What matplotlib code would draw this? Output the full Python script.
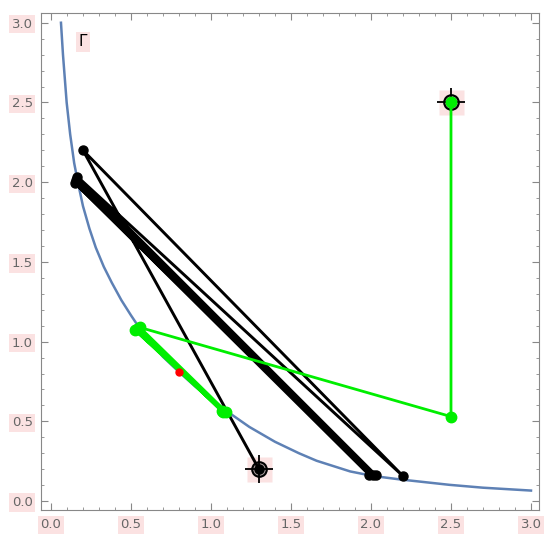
import numpy as np
import matplotlib.pyplot as plt
from matplotlib.ticker import MultipleLocator

# curve Gamma
curve_x = [0.0625, 0.075, 0.098, 0.12, 0.145, 0.17, 0.20, 0.24, 0.28, 0.33, 0.38, 0.44, 0.50,
           0.55, 0.62, 0.70, 0.80, 0.90, 1.0, 1.1, 1.24, 1.40, 1.55, 1.66, 1.87, 2.01, 2.18,
           2.49, 2.70, 3.0]
curve_y = [3.0, 2.8, 2.5, 2.3, 2.12, 1.99, 1.85, 1.71, 1.59, 1.47, 1.37, 1.26, 1.165,
           1.09, 1.0, 0.905, 0.81, 0.72, 0.638, 0.563, 0.465, 0.372, 0.30, 0.253, 0.186, 0.158, 0.136,
           0.102, 0.084, 0.066]

# black path
black_x = [1.3, 0.2, 2.2, 0.165, 2.03, 0.158, 2.01, 0.15, 1.99]
black_y = [0.2, 2.2, 0.157, 2.035, 0.163, 2.015, 0.162, 1.995, 0.163]

# green path
green_x = [2.5, 2.5, 0.556, 1.095, 0.525, 1.075, 0.54, 1.068]
green_y = [2.5, 0.53, 1.089, 0.56, 1.072, 0.56, 1.08, 0.562]

red_pt = (0.80, 0.81)
targets_x = [1.3, 2.5]
targets_y = [0.2, 2.5]

pink = '#fbe2e2'

fig = plt.figure(figsize=(5.5, 5.49), dpi=100)
ax = fig.add_axes([0.0745, 0.071, 0.9055, 0.905])

ax.plot(curve_x, curve_y, color='#5E81B5', lw=1.8, zorder=2)

# target markers (pink square, grey circle, cross)
ax.plot(targets_x, targets_y, 's', ms=18, color=pink, mec='none', zorder=1)
ax.plot(targets_x, targets_y, 'o', ms=10.5, mfc='#a99c9c', mec='black', mew=1.5, zorder=3)
ax.plot(targets_x, targets_y, '+', ms=20, color='black', mew=1.3, zorder=3)

ax.plot(black_x, black_y, '-o', color='black', lw=2.1, ms=6.5, zorder=4)
ax.plot(green_x, green_y, '-o', color='#00ee00', lw=2.0, ms=7.5, zorder=5)
ax.plot(*red_pt, 'o', color='#ff0000', ms=5, zorder=6)

ax.text(0.2, 2.88, '\u0393', fontsize=11, ha='center', va='center', color='black',
        bbox=dict(boxstyle='square,pad=0.15', fc=pink, ec='none'))

ax.set_xlim(-0.0625, 3.05)
ax.set_ylim(-0.056, 3.06)
ax.xaxis.set_major_locator(MultipleLocator(0.5))
ax.yaxis.set_major_locator(MultipleLocator(0.5))
ax.xaxis.set_minor_locator(MultipleLocator(0.1))
ax.yaxis.set_minor_locator(MultipleLocator(0.1))
ax.tick_params(which='both', direction='in', top=True, right=True, color='#888888', labelcolor='#666666')
ax.tick_params(which='major', length=5, labelsize=9.5, pad=6)
ax.tick_params(which='minor', length=2.5)
for s in ax.spines.values():
    s.set_color('#888888')

fig.canvas.draw()
for lbl in ax.get_xticklabels() + ax.get_yticklabels():
    lbl.set_bbox(dict(boxstyle='square,pad=0.2', fc=pink, ec='none'))

fig.savefig('out.png', dpi=100)
